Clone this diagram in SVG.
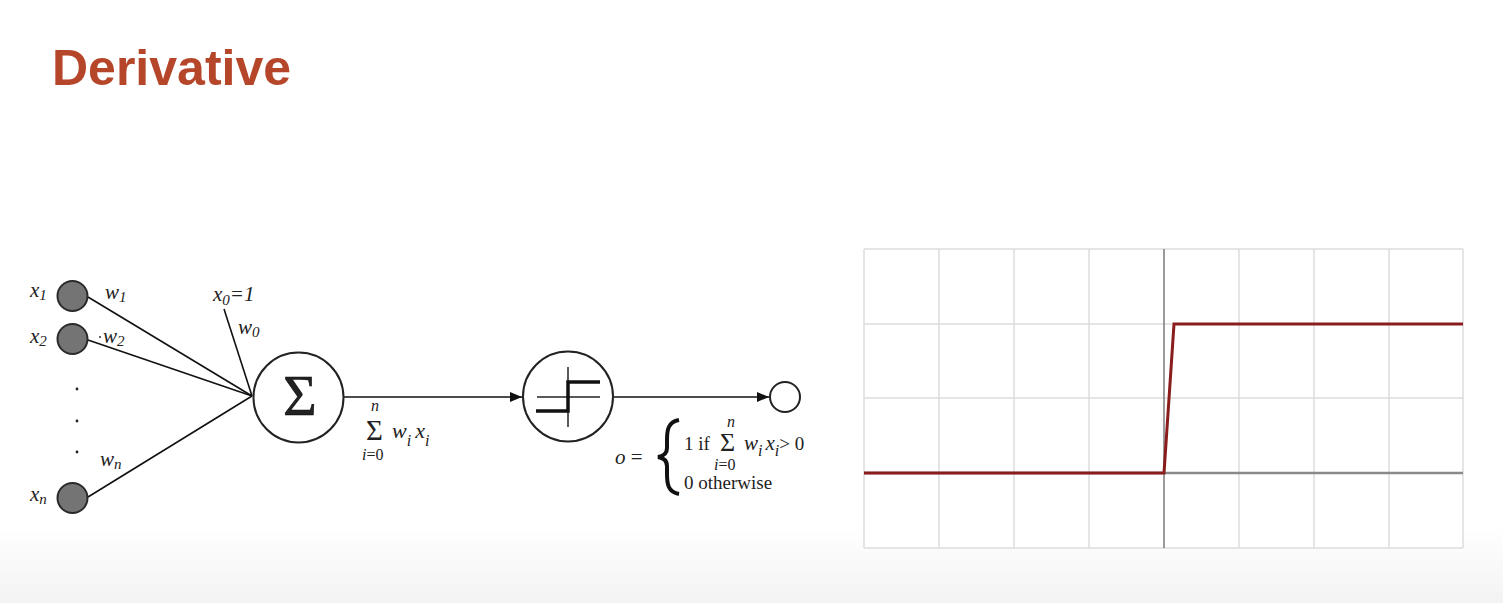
<svg xmlns="http://www.w3.org/2000/svg" width="1503" height="603" viewBox="0 0 1503 603">
<defs>
<style>
.t{font-family:"Liberation Serif","Times New Roman",serif;fill:#222}
.i{font-style:italic}
.ln{stroke:#111;stroke-width:1.6;fill:none}
.in{fill:#747474;stroke:#2a2a2a;stroke-width:2}
.op{fill:#fff;stroke:#222;stroke-width:2}
.g{stroke:#dcdcdc;stroke-width:1.5}
</style>
<marker id="ah" viewBox="0 0 12 10" refX="12" refY="5" markerWidth="13" markerHeight="10" markerUnits="userSpaceOnUse" orient="auto">
<path d="M0,0 L12,5 L0,10 Z" fill="#111"/>
</marker>
<linearGradient id="bg" x1="0" y1="0" x2="0" y2="1">
<stop offset="0" stop-color="#ffffff"/>
<stop offset="1" stop-color="#f3f3f3"/>
</linearGradient>
</defs>
<rect width="1503" height="603" fill="#ffffff"/>
<rect y="525" width="1503" height="78" fill="url(#bg)"/>

<text x="52" y="85" font-family="Liberation Sans, Arial, sans-serif" font-weight="bold" font-size="50" fill="#b5462a">Derivative</text>

<g id="connectors">
<line class="ln" x1="88" y1="297" x2="252" y2="396"/>
<line class="ln" x1="88" y1="340" x2="252" y2="396"/>
<line class="ln" x1="88" y1="497" x2="252" y2="396"/>
<line class="ln" x1="224" y1="309" x2="252" y2="396"/>
<line class="ln" x1="344" y1="397" x2="522" y2="397" marker-end="url(#ah)"/>
<line class="ln" x1="614" y1="397" x2="769" y2="397" marker-end="url(#ah)"/>
</g>

<g id="node-x1">
<circle class="in" cx="72.5" cy="296" r="15"/>
<text class="t i" x="30" y="297" font-size="21">x<tspan font-size="15" dy="3">1</tspan></text>
<text class="t i" x="105" y="299" font-size="21">w<tspan font-size="15" dy="3">1</tspan></text>
</g>
<g id="node-x2">
<circle class="in" cx="72.5" cy="339" r="15"/>
<text class="t i" x="30" y="343" font-size="21">x<tspan font-size="15" dy="3">2</tspan></text>
<circle cx="100" cy="337" r="1" fill="#333"/>
<text class="t i" x="103" y="343" font-size="21">w<tspan font-size="15" dy="3">2</tspan></text>
</g>
<g id="dots">
<circle cx="77" cy="389" r="1.4" fill="#222"/>
<circle cx="77" cy="421" r="1.4" fill="#222"/>
<circle cx="77" cy="452" r="1.4" fill="#222"/>
</g>
<g id="node-xn">
<circle class="in" cx="72.5" cy="498" r="15"/>
<text class="t i" x="30" y="501" font-size="21">x<tspan font-size="15" dy="3">n</tspan></text>
<text class="t i" x="100" y="466" font-size="21" fill="#2a3f38">w<tspan font-size="15" dy="3">n</tspan></text>
</g>
<g id="bias">
<text class="t i" x="213" y="301" font-size="21">x<tspan font-size="15" dy="4">0</tspan><tspan dy="-4">=1</tspan></text>
<text class="t i" x="238" y="334" font-size="21">w<tspan font-size="15" dy="3">0</tspan></text>
</g>

<g id="sum-node">
<circle class="op" cx="298.5" cy="397.5" r="45"/>
<text class="t" x="300" y="415" font-size="58" text-anchor="middle" fill="#111" stroke="#111" stroke-width="0.6">Σ</text>
<text class="t i" x="371" y="411" font-size="16">n</text>
<text class="t" x="366" y="440" font-size="29">Σ</text>
<text class="t i" x="392" y="438" font-size="22">w<tspan font-size="16" dy="8">i</tspan><tspan dy="-8" dx="4">x</tspan><tspan font-size="16" dy="8">i</tspan></text>
<text class="t i" x="362" y="460" font-size="16">i<tspan font-style="normal">=0</tspan></text>
</g>

<g id="step-node">
<circle class="op" cx="568" cy="396.5" r="45"/>
<line x1="568" y1="367" x2="568" y2="427" stroke="#222" stroke-width="1.5"/>
<line x1="537" y1="397" x2="600" y2="397" stroke="#222" stroke-width="1.5"/>
<polyline points="536,411 568,411 568,382 600,382" fill="none" stroke="#111" stroke-width="3.5"/>
</g>

<g id="output-node">
<circle class="op" cx="785" cy="397" r="15"/>
<text class="t i" x="615" y="464" font-size="21">o<tspan font-style="normal"> =</tspan></text>
<path d="M679,420 C668,422 667,430 667,440 L667,448 C667,453 664,456 658,457 C664,458 667,461 667,466 L667,474 C667,484 668,492 679,494" fill="none" stroke="#111" stroke-width="4"/>
<text class="t" x="684" y="450" font-size="19">1  if</text>
<text class="t" x="720" y="451" font-size="26">Σ</text>
<text class="t i" x="727" y="427" font-size="16">n</text>
<text class="t i" x="714" y="470" font-size="16">i<tspan font-style="normal">=0</tspan></text>
<text class="t i" x="744" y="450" font-size="21">w<tspan font-size="16" dy="6">i</tspan><tspan dy="-6" dx="3">x</tspan><tspan font-size="16" dy="6">i</tspan><tspan font-style="normal" dy="-6" font-size="19">&gt; 0</tspan></text>
<text class="t" x="684" y="489" font-size="19">0 otherwise</text>
</g>

<g id="chart">
<rect x="864" y="249" width="599" height="299" fill="#ffffff"/>
<g class="g">
<line x1="864" y1="249" x2="864" y2="548"/>
<line x1="939" y1="249" x2="939" y2="548"/>
<line x1="1014" y1="249" x2="1014" y2="548"/>
<line x1="1089" y1="249" x2="1089" y2="548"/>
<line x1="1239" y1="249" x2="1239" y2="548"/>
<line x1="1314" y1="249" x2="1314" y2="548"/>
<line x1="1389" y1="249" x2="1389" y2="548"/>
<line x1="1463" y1="249" x2="1463" y2="548"/>
<line x1="864" y1="249" x2="1463" y2="249"/>
<line x1="864" y1="324" x2="1463" y2="324"/>
<line x1="864" y1="398" x2="1463" y2="398"/>
<line x1="864" y1="548" x2="1463" y2="548"/>
</g>
<line x1="1164" y1="249" x2="1164" y2="548" stroke="#7a7a7a" stroke-width="1.5"/>
<line x1="864" y1="473" x2="1463" y2="473" stroke="#8a8a8a" stroke-width="2.5"/>
<polyline points="864,473 1164,473 1174,324 1463,324" fill="none" stroke="#8b1c1c" stroke-width="3"/>
</g>
</svg>
